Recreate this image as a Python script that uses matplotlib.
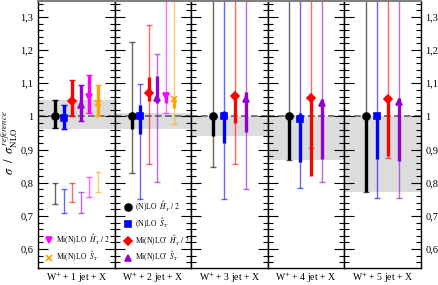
import matplotlib
matplotlib.use("Agg")
import matplotlib.pyplot as plt
from matplotlib.ticker import MultipleLocator, FuncFormatter
from matplotlib.lines import Line2D

plt.rcParams['font.family'] = ['Liberation Serif', 'DejaVu Serif']
plt.rcParams['mathtext.fontset'] = 'stix'

# ---------------- data ----------------
panels = [r'W$^{+}$ + 1 jet + X', r'W$^{+}$ + 2 jet + X', r'W$^{+}$ + 3 jet + X',
          r'W$^{+}$ + 4 jet + X', r'W$^{+}$ + 5 jet + X']

# reference (NLO) uncertainty band
band_lo = [0.963, 0.963, 0.940, 0.869, 0.771]
band_hi = [1.050, 1.010, 1.002, 1.002, 1.002]

series = ['nlo_ht', 'nlo_st', 'minlop_ht', 'minlop_st', 'minlo_ht', 'minlo_st']
labels = {
    'nlo_ht': r"(N)LO  $\hat{H}^{\prime}_{T}\ /\ 2$",
    'nlo_st': r"(N)LO  $\hat{S}_T$",
    'minlop_ht': r"Mi(N)LO'  $\hat{H}^{\prime}_{T}\ /\ 2$",
    'minlop_st': r"Mi(N)LO'  $\hat{S}_T$",
    'minlo_ht': r"Mi(N)LO  $\hat{H}^{\prime}_{T}\ /\ 2$",
    'minlo_st': r"Mi(N)LO  $\hat{S}_T$",
}
colors = {'nlo_ht': '#000000', 'nlo_st': '#0000ff', 'minlop_ht': '#ff0000',
          'minlop_st': '#9400d3', 'minlo_ht': '#ff00ff', 'minlo_st': '#ffa500'}
markers = {'nlo_ht': 'o', 'nlo_st': 's', 'minlop_ht': 'D', 'minlop_st': '^',
           'minlo_ht': 'v', 'minlo_st': 'x'}

# central values per panel (None = not shown)
center = {
    'nlo_ht':    [1.000, 1.000, 1.000, 1.000, 1.000],
    'nlo_st':    [0.994, 1.000, 1.000, 0.991, 1.000],
    'minlop_ht': [1.046, 1.071, 1.061, 1.056, 1.053],
    'minlop_st': [1.033, 1.056, 1.051, 1.041, 1.043],
    'minlo_ht':  [1.059, 1.063, None, None, None],
    'minlo_st':  [1.039, 1.053, None, None, None],
}
# thick error bars
thick_lo = {
    'nlo_ht':    [0.965, 0.963, 0.941, 0.868, 0.771],
    'nlo_st':    [0.961, 0.946, 0.919, 0.864, 0.871],
    'minlop_ht': [1.000, 1.045, 0.981, 0.821, 0.881],
    'minlop_st': [0.986, 1.040, 0.953, 0.873, 0.866],
    'minlo_ht':  [1.011, 1.040, None, None, None],
    'minlo_st':  [1.000, 1.026, None, None, None],
}
thick_hi = {
    'nlo_ht':    [1.050, 1.010, 1.003, 1.003, 1.003],
    'nlo_st':    [1.034, 1.033, 1.016, 1.011, 1.008],
    'minlop_ht': [1.109, 1.119, 1.069, 1.062, 1.060],
    'minlop_st': [1.096, 1.121, 1.073, 1.052, 1.055],
    'minlo_ht':  [1.124, 1.068, None, None, None],
    'minlo_st':  [1.095, 1.060, None, None, None],
}
# thin error bars (1-jet panel: drawn in lower region)
thin_lo = {
    'nlo_ht':    [0.735, 0.828, 0.848, 0.868, 0.771],
    'nlo_st':    [0.710, 0.751, 0.750, 0.783, 0.753],
    'minlop_ht': [0.741, 0.858, 0.857, 0.906, 0.875],
    'minlop_st': [0.710, 0.801, 0.781, 0.801, 0.753],
    'minlo_ht':  [0.757, 1.011, None, None, None],
    'minlo_st':  [0.771, 0.978, None, None, None],
}
thin_hi = {
    'nlo_ht':    [0.800, 1.223, 1.450, 1.450, 1.450],
    'nlo_st':    [0.780, 1.098, 1.450, 1.450, 1.450],
    'minlop_ht': [0.800, 1.276, 1.450, 1.450, 1.450],
    'minlop_st': [0.771, 1.188, 1.450, 1.450, 1.450],
    'minlo_ht':  [0.816, 1.450, None, None, None],
    'minlo_st':  [0.831, 1.450, None, None, None],
}

ylim = (0.542, 1.348)

# ---------------- figure ----------------
fig, axes = plt.subplots(1, 5, sharey=True, figsize=(4.39, 2.85), dpi=100)
fig.subplots_adjust(left=0.0866, right=0.958, top=0.9965, bottom=0.0586, wspace=0)

fmt = FuncFormatter(lambda v, p: ('%g' % round(v, 2)).replace('.', ','))

for i, ax in enumerate(axes):
    present = [s for s in series if center[s][i] is not None]
    n = len(present)
    ax.set_xlim(-1, n + 2)
    ax.set_ylim(*ylim)
    ax.axhspan(band_lo[i], band_hi[i], color='#dcdcdc', lw=0, zorder=0)
    ax.axhline(1.0, color='#606060', ls=(0, (4, 2)), lw=1.2, zorder=1)
    for j, s in enumerate(present):
        x = j + 1
        c = colors[s]
        yc = center[s][i]
        # thin bar
        lo, hi = thin_lo[s][i], thin_hi[s][i]
        if i == 0:
            mid = 0.5 * (lo + hi)
            ax.errorbar([x], [mid], yerr=[[mid - lo], [hi - mid]], fmt='none',
                        ecolor=c, alpha=0.6, elinewidth=1.0, capsize=2, capthick=1.0,
                        zorder=2)
        else:
            ax.errorbar([x], [yc], yerr=[[yc - lo], [hi - yc]], fmt='none',
                        ecolor=c, alpha=0.6, elinewidth=1.0, capsize=2, capthick=1.0,
                        zorder=2)
        # thick bar
        tl, th = thick_lo[s][i], thick_hi[s][i]
        if i == 0:
            ax.errorbar([x], [yc], yerr=[[yc - tl], [th - yc]], fmt='none',
                        ecolor=c, elinewidth=2.4, capsize=2, capthick=1.0, zorder=3)
        else:
            ax.plot([x, x], [tl, th], color=c, lw=2.4, solid_capstyle='butt', zorder=3)
        ms = 5 if markers[s] in 'os' else 4.5
        ax.plot([x], [yc], marker=markers[s], color=c, ms=ms, mew=1.2,
                ls='none', zorder=4)

    ax.set_xticks([])
    ax.yaxis.set_major_locator(MultipleLocator(0.1))
    ax.yaxis.set_minor_locator(MultipleLocator(0.02))
    ax.yaxis.set_major_formatter(fmt)
    ax.tick_params(axis='y', which='both', direction='in', left=True, right=True,
                   width=0.8, labelsize=7.5, labelleft=(i == 0), labelright=(i == 4))
    ax.tick_params(axis='y', which='major', length=7)
    ax.tick_params(axis='y', which='minor', length=3.5)
    ax.set_xlabel(panels[i], fontsize=7, labelpad=1.5)
    for sp in ax.spines.values():
        sp.set_linewidth(1.0)
    ax.spines['top'].set_color('#808080')
    ax.spines['top'].set_linewidth(1.5)

fig.text(0.022, 0.50, r'$\sigma\ \ /\ \ \sigma^{\,reference}_{\rm NLO}$', rotation=90,
         ha='center', va='center', fontsize=9)

def proxy(s):
    return Line2D([], [], ls='none', marker=markers[s], color=colors[s],
                  ms=5 if markers[s] in 'os' else 4.5, mew=1.2)

l1 = axes[0].legend([proxy(s) for s in ['minlo_ht', 'minlo_st']],
                    [labels[s] for s in ['minlo_ht', 'minlo_st']],
                    loc='lower left', bbox_to_anchor=(0.04, 0.0), frameon=False,
                    fontsize=5.5, handlelength=1.0, handletextpad=0.4,
                    labelspacing=0.35, borderaxespad=0.15)
l2 = axes[1].legend([proxy(s) for s in ['nlo_ht', 'nlo_st', 'minlop_ht', 'minlop_st']],
                    [labels[s] for s in ['nlo_ht', 'nlo_st', 'minlop_ht', 'minlop_st']],
                    loc='lower left', bbox_to_anchor=(0.07, 0.0), frameon=False,
                    fontsize=5.5, handlelength=1.0, handletextpad=0.4,
                    labelspacing=0.3, borderaxespad=0.15)

fig.savefig('out.png', dpi=100)
